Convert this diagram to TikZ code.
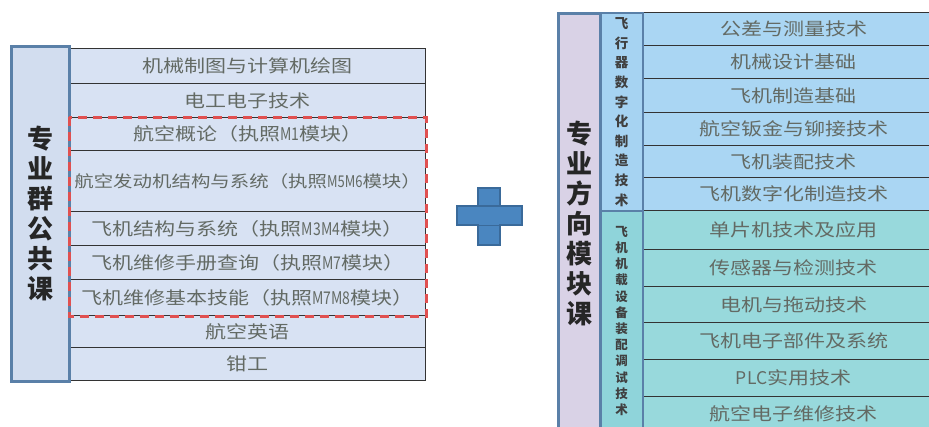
\documentclass[tikz,border=0pt]{standalone}
\usepackage{fontspec}
\setmainfont{Noto Sans CJK SC}
\newfontfamily\rowfont{Noto Sans CJK SC}[FakeStretch=1.2]
\newfontfamily\latfont{Noto Sans CJK SC}[FakeStretch=0.8]
\newcommand{\lat}[1]{{\latfont #1}}
\definecolor{lblL}{HTML}{D2DDEF}
\definecolor{rowL}{HTML}{D8E2F3}
\definecolor{bordL}{HTML}{5A80A8}
\definecolor{lblR}{HTML}{D9D2E6}
\definecolor{subU}{HTML}{A6D3F2}
\definecolor{subD}{HTML}{8FD4DA}
\definecolor{rowU}{HTML}{AAD6F3}
\definecolor{rowD}{HTML}{98D9DC}
\definecolor{txt}{HTML}{636A64}
\definecolor{redd}{HTML}{E05050}
\definecolor{plusc}{HTML}{4A86C0}
\definecolor{plusb}{HTML}{3A6A9A}
\tikzset{
  rowbox/.style={draw=black!80, line width=1.2pt, inner sep=0pt, text=txt,
    font=\rowfont\fontsize{17.5}{20}\selectfont, anchor=north west},
  lblbox/.style={draw=bordL, line width=2.5pt, inner sep=0pt, anchor=north west,
    font=\fontsize{26}{30}\bfseries\selectfont, align=center, text=black!85},
  subbox/.style={draw=bordL, line width=2pt, inner sep=0pt, anchor=north west,
    align=center, text=black!75},
}
\begin{document}
\begin{tikzpicture}[x=1pt,y=-1pt]
\useasboundingbox (0,0) rectangle (929,426);
\fill[white] (0,0) rectangle (929,426);
% ---------- left block ----------
\node[rowbox, fill=rowL, minimum width=356pt, minimum height=35pt] (l1) at (69,48) {机械制图与计算机绘图};
\node[rowbox, fill=rowL, minimum width=356pt, minimum height=34pt] (l2) at (69,83) {电工电子技术};
\node[rowbox, fill=rowL, minimum width=356pt, minimum height=33pt] (l3) at (69,117) {航空概论（执照\lat{M1}模块）};
\node[rowbox, fill=rowL, minimum width=356pt, minimum height=61pt, font=\rowfont\fontsize{16.2}{20}\selectfont] (l4) at (69,150) {航空发动机结构与系统（执照\lat{M5M6}模块）};
\node[rowbox, fill=rowL, minimum width=356pt, minimum height=34pt] (l5) at (69,211) {飞机结构与系统（执照\lat{M3M4}模块）};
\node[rowbox, fill=rowL, minimum width=356pt, minimum height=34pt] (l6) at (69,245) {飞机维修手册查询（执照\lat{M7}模块）};
\node[rowbox, fill=rowL, minimum width=356pt, minimum height=36pt] (l7) at (69,279) {飞机维修基本技能（执照\lat{M7M8}模块）};
\node[rowbox, fill=rowL, minimum width=356pt, minimum height=32pt] (l8) at (69,315) {航空英语};
\node[rowbox, fill=rowL, minimum width=356pt, minimum height=33pt] (l9) at (69,347) {钳工};
\node[lblbox, fill=lblL, minimum width=58pt, minimum height=335pt] (lb) at (10,45) {专\\业\\群\\公\\共\\课};
\draw[redd, line width=3pt, dash pattern=on 9pt off 6pt] (l3.north west) rectangle (l7.south east);
% ---------- plus ----------
\node[draw=plusb, fill=plusc, line width=1.2pt, minimum width=22pt, minimum height=57pt, inner sep=0pt] (pv) at (489,216.5) {};
\node[draw=plusb, fill=plusc, line width=1.2pt, minimum width=65pt, minimum height=19pt, inner sep=0pt] (ph) at (489.5,215.5) {};
\fill[plusc] (479,207) rectangle (499,224.5);
% ---------- right block ----------
\node[rowbox, fill=rowU, minimum width=300pt, minimum height=33pt] (u1) at (643,12) {公差与测量技术};
\node[rowbox, fill=rowU, minimum width=300pt, minimum height=33pt] (u2) at (643,45) {机械设计基础};
\node[rowbox, fill=rowU, minimum width=300pt, minimum height=34pt] (u3) at (643,78) {飞机制造基础};
\node[rowbox, fill=rowU, minimum width=300pt, minimum height=33pt] (u4) at (643,112) {航空钣金与铆接技术};
\node[rowbox, fill=rowU, minimum width=300pt, minimum height=32pt] (u5) at (643,145) {飞机装配技术};
\node[rowbox, fill=rowU, minimum width=300pt, minimum height=33pt] (u6) at (643,177) {飞机数字化制造技术};
\node[rowbox, fill=rowD, minimum width=300pt, minimum height=39pt] (d1) at (643,210) {单片机技术及应用};
\node[rowbox, fill=rowD, minimum width=300pt, minimum height=37pt] (d2) at (643,249) {传感器与检测技术};
\node[rowbox, fill=rowD, minimum width=300pt, minimum height=36pt] (d3) at (643,286) {电机与拖动技术};
\node[rowbox, fill=rowD, minimum width=300pt, minimum height=37pt] (d4) at (643,322) {飞机电子部件及系统};
\node[rowbox, fill=rowD, minimum width=300pt, minimum height=37pt] (d5) at (643,359) {{\fontspec{Noto Sans CJK SC}PLC}实用技术};
\node[rowbox, fill=rowD, minimum width=300pt, minimum height=34pt] (d6) at (643,396) {航空电子维修技术};
\node[subbox, fill=subU, minimum width=43pt, minimum height=198pt,
  font=\fontsize{13.5}{19.6}\bfseries\selectfont] (su) at (599,12) {飞\\行\\器\\数\\字\\化\\制\\造\\技\\术};
\node[subbox, fill=subD, minimum width=43pt, minimum height=220pt,
  font=\fontsize{12.5}{16.2}\bfseries\selectfont] (sd) at (599,210) {飞\\机\\机\\载\\设\\备\\装\\配\\调\\试\\技\\术};
\node[lblbox, fill=lblR, minimum width=42pt, minimum height=420pt, font=\fontsize{26}{30}\bfseries\selectfont] (rb) at (557,12) {专\\业\\方\\向\\模\\块\\课};
\end{tikzpicture}
\end{document}
